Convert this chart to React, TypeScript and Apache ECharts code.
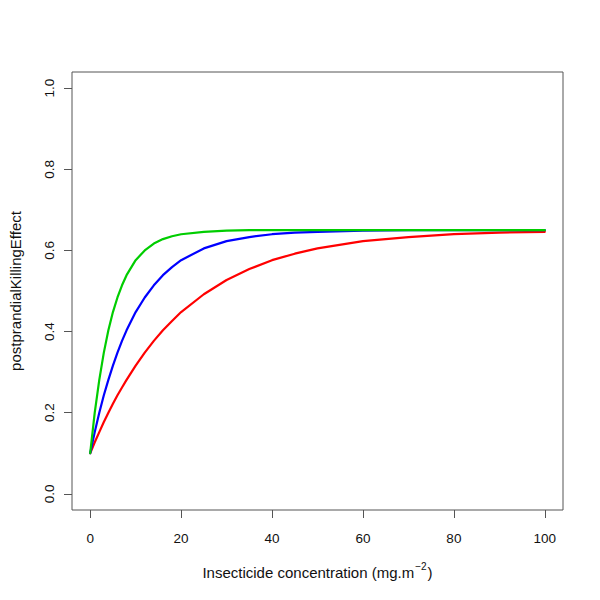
import React, { useEffect, useRef } from "react";
import * as echarts from "echarts";

const concentration = [0, 1, 2, 3, 4, 5, 6, 7, 8, 10, 12, 14, 16, 18, 20, 25, 30, 35, 40, 45, 50, 60, 70, 80, 90, 100];
const redEffect = [0.100, 0.127, 0.152, 0.177, 0.200, 0.222, 0.243, 0.262, 0.281, 0.316, 0.348, 0.377, 0.403, 0.426, 0.448, 0.492, 0.527, 0.554, 0.576, 0.592, 0.605, 0.623, 0.633, 0.640, 0.644, 0.646];
const blueEffect = [0.100, 0.152, 0.200, 0.243, 0.281, 0.316, 0.348, 0.377, 0.403, 0.448, 0.484, 0.514, 0.539, 0.559, 0.576, 0.605, 0.623, 0.633, 0.640, 0.644, 0.646, 0.649, 0.650, 0.650, 0.650, 0.650];
const greenEffect = [0.100, 0.200, 0.281, 0.348, 0.403, 0.448, 0.484, 0.514, 0.539, 0.576, 0.600, 0.617, 0.628, 0.635, 0.640, 0.646, 0.649, 0.650, 0.650, 0.650, 0.650, 0.650, 0.650, 0.650, 0.650, 0.650];
const xTicks = [0, 20, 40, 60, 80, 100];
const yTicks = [0, 0.2, 0.4, 0.6, 0.8, 1.0];

const FONT = "Liberation Sans, Arial, sans-serif";

export default function App() {
  const ref = useRef<HTMLDivElement>(null);
  useEffect(() => {
    if (!ref.current) return;
    const chart = echarts.init(ref.current, undefined, { renderer: "svg" });
    const mk = (vals: number[], color: string, name: string) => ({
      type: "line",
      name,
      data: concentration.map((x, i) => [x, vals[i]]),
      showSymbol: false,
      smooth: false,
      lineStyle: { color, width: 2.2, join: "round", cap: "round" },
      itemStyle: { color },
    });
    chart.setOption({
      animation: false,
      backgroundColor: "#ffffff",
      grid: { left: 72, right: 37, top: 72, bottom: 90, show: true, borderColor: "#555", borderWidth: 1, backgroundColor: "transparent" },
      xAxis: {
        type: "value",
        min: -4,
        max: 104,
        splitLine: { show: false },
        axisLine: { show: false, onZero: false },
        axisTick: { show: true, inside: false, length: 8, customValues: xTicks, lineStyle: { color: "#555" } },
        axisLabel: { customValues: xTicks, margin: 21, color: "#111", fontFamily: FONT, fontSize: 13.5 },
        name: "{a|Insecticide concentration (mg.m}{s|−2}{a|)}",
        nameLocation: "middle",
        nameGap: 50,
        nameTextStyle: {
          rich: {
            a: { fontFamily: FONT, fontSize: 15, color: "#111", verticalAlign: "bottom", lineHeight: 20 },
            s: { fontFamily: FONT, fontSize: 10, color: "#111", verticalAlign: "bottom", padding: [0, 1, 9, 1], lineHeight: 20 },
          },
        },
      },
      yAxis: {
        type: "value",
        min: -0.04,
        max: 1.04,
        splitLine: { show: false },
        axisLine: { show: false, onZero: false },
        axisTick: { show: true, inside: false, length: 8, customValues: yTicks, lineStyle: { color: "#555" } },
        axisLabel: {
          customValues: yTicks,
          rotate: 90,
          margin: 16,
          color: "#111",
          fontFamily: FONT,
          fontSize: 13.5,
          formatter: (v: number) => v.toFixed(1),
        },
        name: "postprandialKillingEffect",
        nameLocation: "middle",
        nameGap: 49,
        nameTextStyle: { fontFamily: FONT, fontSize: 15, color: "#111" },
      },
      series: [
        mk(redEffect, "#ff0000", "red"),
        mk(blueEffect, "#0000ff", "blue"),
        mk(greenEffect, "#00cd00", "green"),
      ],
    });
    return () => chart.dispose();
  }, []);
  return <div ref={ref} style={{ width: 600, height: 600, position: "absolute", left: 0, top: 0 }} />;
}
